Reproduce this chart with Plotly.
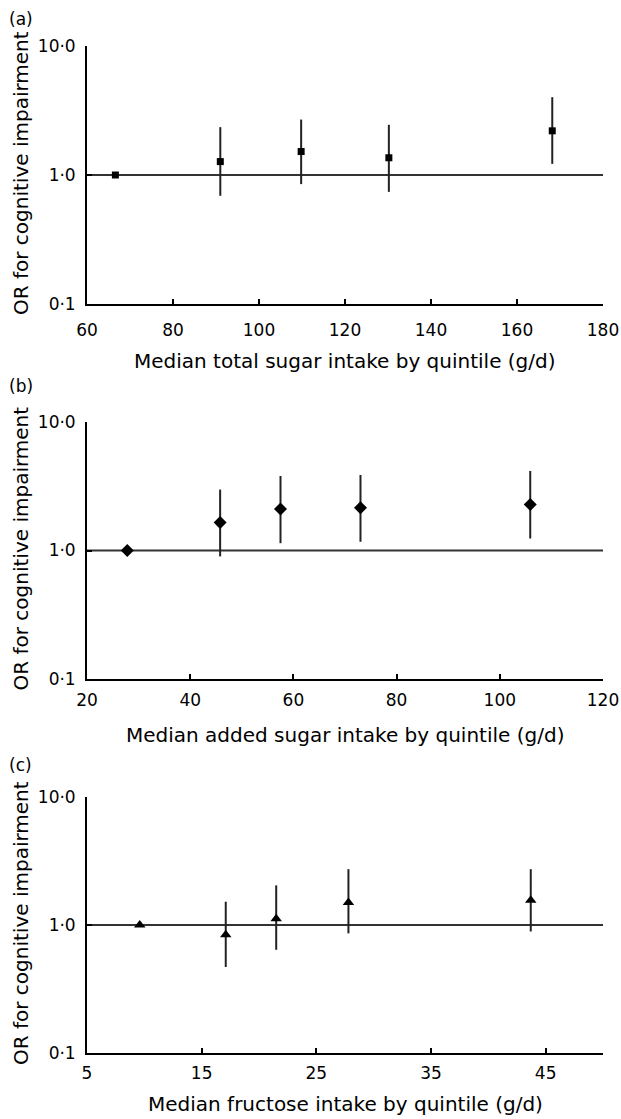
import plotly.graph_objects as go

# ---- data ----
total_x = [66.6, 91.0, 109.8, 130.2, 168.2]
total_or = [1.00, 1.27, 1.52, 1.36, 2.20]
total_lo = [1.00, 0.69, 0.85, 0.74, 1.22]
total_hi = [1.00, 2.35, 2.69, 2.45, 4.01]

added_x = [27.8, 45.8, 57.5, 73.0, 105.9]
added_or = [1.00, 1.65, 2.10, 2.15, 2.28]
added_lo = [1.00, 0.90, 1.14, 1.17, 1.24]
added_hi = [1.00, 2.98, 3.80, 3.87, 4.16]

fruc_x = [9.6, 17.1, 21.5, 27.8, 43.7]
fruc_or = [1.00, 0.84, 1.12, 1.50, 1.56]
fruc_lo = [1.00, 0.47, 0.64, 0.86, 0.89]
fruc_hi = [1.00, 1.52, 2.04, 2.73, 2.73]

y_tickvals = [0.1, 1, 10]
y_ticktext = ["0·1", "1·0", "10·0"]
ref_or = 1.0

panels = [
    dict(label="(a)", x=total_x, y=total_or, lo=total_lo, hi=total_hi,
         symbol="square", msize=7, xrange=[60, 180], xticks=[60, 80, 100, 120, 140, 160, 180],
         xtitle="Median total sugar intake by quintile (g/d)"),
    dict(label="(b)", x=added_x, y=added_or, lo=added_lo, hi=added_hi,
         symbol="diamond", msize=10, xrange=[20, 120], xticks=[20, 40, 60, 80, 100, 120],
         xtitle="Median added sugar intake by quintile (g/d)"),
    dict(label="(c)", x=fruc_x, y=fruc_or, lo=fruc_lo, hi=fruc_hi,
         symbol="triangle-up", msize=10, xrange=[5, 50], xticks=[5, 15, 25, 35, 45],
         xtitle="Median fructose intake by quintile (g/d)"),
]

W, H = 621, 1119
left_px, right_px = 87, 603
tops = [46, 422, 797]
bottoms = [304, 679, 1053]
label_y = [19, 386, 765]
xtitle_y = [361, 735, 1104]
xstandoff = [10, 5, 4]

def py(v):
    return 1 - v / H

fig = go.Figure()
annotations = []
font = "DejaVu Sans, Verdana, sans-serif"
for i, p in enumerate(panels):
    n = "" if i == 0 else str(i + 1)
    xa, ya = "x" + n, "y" + n
    # reference line at OR = 1
    fig.add_trace(go.Scatter(x=p["xrange"], y=[ref_or, ref_or], mode="lines",
                             line=dict(color="#333333", width=1.8),
                             xaxis=xa, yaxis=ya, showlegend=False, hoverinfo="skip"))
    plus = [h - v for h, v in zip(p["hi"], p["y"])]
    minus = [v - l for l, v in zip(p["lo"], p["y"])]
    fig.add_trace(go.Scatter(x=p["x"], y=p["y"], mode="markers",
                             marker=dict(symbol=p["symbol"], size=p["msize"], color="black"),
                             error_y=dict(type="data", symmetric=False, array=plus, arrayminus=minus,
                                          color="#222222", thickness=2, width=0),
                             xaxis=xa, yaxis=ya, showlegend=False))
    dom = [py(bottoms[i]), py(tops[i])]
    fig.layout["xaxis" + n] = dict(domain=[left_px / W, right_px / W], range=p["xrange"],
                                  tickvals=p["xticks"], ticks="inside", ticklen=5, tickwidth=1.5,
                                  tickcolor="black", showline=True, linecolor="black", linewidth=1.8,
                                  showgrid=False, zeroline=False, anchor=ya, automargin=False,
                                  tickfont=dict(size=17, color="black", family=font),
                                  ticklabelstandoff=xstandoff[i], ticklabeloverflow="allow")
    fig.layout["yaxis" + n] = dict(domain=dom, type="log", range=[-1, 1],
                                  tickvals=y_tickvals, ticktext=y_ticktext, ticks="inside",
                                  ticklen=5, tickwidth=1.5, tickcolor="black", showline=True,
                                  linecolor="black", linewidth=1.8, showgrid=False, zeroline=False,
                                  anchor=xa, automargin=False,
                                  tickfont=dict(size=17, color="black", family=font),
                                  ticklabelstandoff=6, ticklabeloverflow="allow")
    annotations.append(dict(text=p["label"], x=7 / W, y=py(label_y[i]), xref="paper", yref="paper",
                            xanchor="left", yanchor="middle", showarrow=False,
                            font=dict(size=17, color="black", family=font)))
    annotations.append(dict(text=p["xtitle"], x=(left_px + right_px) / 2 / W, y=py(xtitle_y[i]),
                            xref="paper", yref="paper", xanchor="center", yanchor="middle",
                            showarrow=False, font=dict(size=20, color="black", family=font)))
    annotations.append(dict(text="OR for cognitive impairment", x=21 / W,
                            y=py((tops[i] + bottoms[i]) / 2 - 2),
                            xref="paper", yref="paper", xanchor="center", yanchor="middle",
                            textangle=-90, showarrow=False,
                            font=dict(size=20, color="black", family=font)))

fig.update_layout(template="none", width=W, height=H, margin=dict(l=0, r=0, t=0, b=0),
                  paper_bgcolor="white", plot_bgcolor="white", annotations=annotations,
                  showlegend=False)
fig.write_html("out.html", config={"displayModeBar": False},
               post_script="document.body.style.margin='0px';")
